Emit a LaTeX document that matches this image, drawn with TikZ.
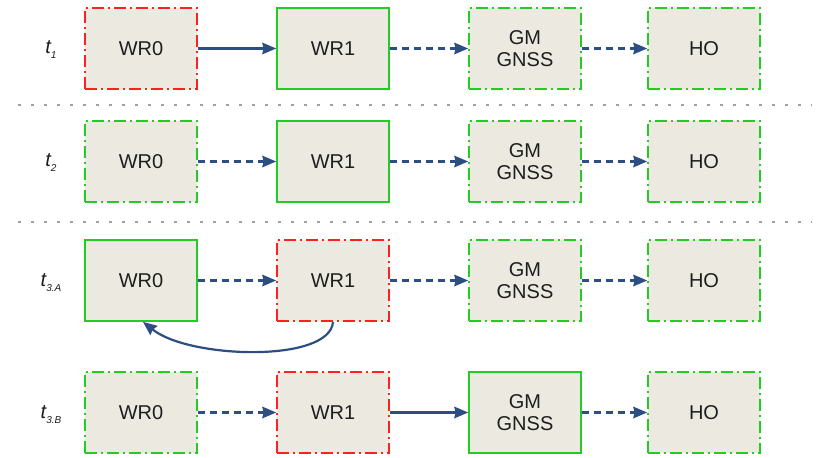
\documentclass[tikz,border=0pt]{standalone}
\usepackage{fontspec}
\setmainfont{Liberation Sans}
\usetikzlibrary{arrows.meta}
\definecolor{boxfill}{HTML}{ECEAE0}
\definecolor{okgreen}{HTML}{22CC22}
\definecolor{badred}{HTML}{FF2020}
\definecolor{arrowblue}{HTML}{2D4E82}
\definecolor{sepgray}{HTML}{A0A0A0}
\definecolor{txt}{HTML}{1E1E1E}
\begin{document}
\begin{tikzpicture}[x=1pt,y=-1pt,
  base/.style={rectangle, fill=boxfill, minimum width=112pt, minimum height=81pt,
    inner sep=0pt, line width=1.8pt, font=\fontsize{20}{22}\selectfont, align=center, text=txt},
  gsolid/.style={base, draw=okgreen},
  gdash/.style={base, draw=okgreen, dash pattern=on 12pt off 4pt on 2pt off 4pt},
  rdash/.style={base, draw=badred, dash pattern=on 12pt off 4pt on 2pt off 4pt},
  conn/.style={draw=arrowblue, line width=2.2pt, -{Stealth[length=14pt,width=12pt,inset=1.5pt,line width=0pt]}},
  dconn/.style={conn, dash pattern=on 7pt off 5pt},
  sep/.style={draw=sepgray, line width=2.5pt, dash pattern=on 2.5pt off 10.5pt},
  tlab/.style={font=\fontsize{20}{22}\selectfont\itshape, text=txt, inner sep=0pt}
]
\useasboundingbox (0,0) rectangle (820,458);
\newcommand{\tsub}[1]{t\raisebox{-5pt}{\fontsize{10}{11}\selectfont\itshape #1}}
% row 1
\node[rdash]  (a0) at (141,48.5) {WR0};
\node[gsolid] (a1) at (333,48.5) {WR1};
\node[gdash]  (a2) at (525,48.5) {GM\\GNSS};
\node[gdash]  (a3) at (704,48.5) {HO};
\draw[conn] (a0) -- (a1);
\draw[dconn] (a1) -- (a2);
\draw[dconn] (a2) -- (a3);
\node[tlab] (l1) at (51,50) {\tsub{1}};
% separator 1
\coordinate (s1a) at (18,105);
\coordinate (s1b) at (812,105);
\draw[sep] (s1a) -- (s1b);
% row 2
\node[gdash]  (b0) at (141,161.5) {WR0};
\node[gsolid] (b1) at (333,161.5) {WR1};
\node[gdash]  (b2) at (525,161.5) {GM\\GNSS};
\node[gdash]  (b3) at (704,161.5) {HO};
\draw[dconn] (b0) -- (b1);
\draw[dconn] (b1) -- (b2);
\draw[dconn] (b2) -- (b3);
\node[tlab] (l2) at (51,163) {\tsub{2}};
% separator 2
\coordinate (s2a) at (18,222);
\coordinate (s2b) at (812,222);
\draw[sep] (s2a) -- (s2b);
% row 3
\node[gsolid] (c0) at (141,280.5) {WR0};
\node[rdash]  (c1) at (333,280.5) {WR1};
\node[gdash]  (c2) at (525,280.5) {GM\\GNSS};
\node[gdash]  (c3) at (704,280.5) {HO};
\draw[dconn] (c0) -- (c1);
\draw[dconn] (c1) -- (c2);
\draw[dconn] (c2) -- (c3);
\draw[conn] (c1.south) .. controls ++(-3,41) and ++(47,37) .. ([xshift=2pt]c0.south);
\node[tlab] (l3) at (51,283) {\tsub{3.A}};
% row 4
\node[gdash]  (d0) at (141,412.5) {WR0};
\node[rdash]  (d1) at (333,412.5) {WR1};
\node[gsolid] (d2) at (525,412.5) {GM\\GNSS};
\node[gdash]  (d3) at (704,412.5) {HO};
\draw[dconn] (d0) -- (d1);
\draw[conn] (d1) -- (d2);
\draw[dconn] (d2) -- (d3);
\node[tlab] (l4) at (51,415) {\tsub{3.B}};
\end{tikzpicture}
\end{document}
